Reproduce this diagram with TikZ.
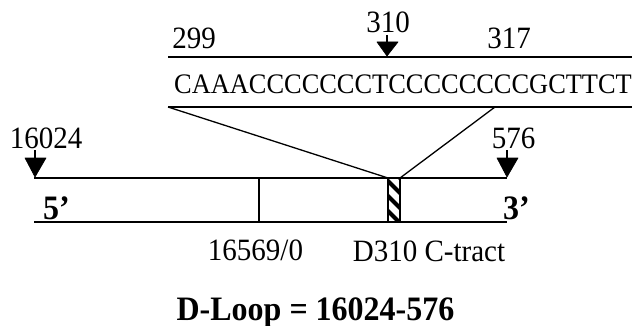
\documentclass[tikz,border=0pt]{standalone}
\usepackage{fontspec}
\usepackage{graphicx}
\setmainfont{Liberation Serif}
% glyphs of the figure are set slightly taller than the font's natural shape
\newcommand{\tallset}[1]{\scalebox{1}[1.07]{#1}}
\begin{document}
\begin{tikzpicture}[x=1pt,y=-1pt,
  rule/.style={line width=1.7pt, black},
  marker/.style={fill=black, draw=black, line width=0.6pt, line join=round},
  label/.style={font=\fontsize{29}{32}\selectfont, anchor=base, inner sep=0pt},
  seqtext/.style={font=\fontsize{26.4}{30}\selectfont, anchor=base, inner sep=0pt},
  endlabel/.style={font=\fontsize{32}{36}\selectfont\bfseries, anchor=base west, inner sep=0pt},
  title/.style={font=\fontsize{32}{36}\selectfont\bfseries, anchor=base, inner sep=0pt}]
\useasboundingbox (0,0) rectangle (634,326);

% sequence window
\coordinate (seqTL) at (168,57);
\coordinate (seqTR) at (632,57);
\coordinate (seqBL) at (168,107);
\coordinate (seqBR) at (632,107);
\coordinate (seqCut) at (495,107);
\draw[rule] (seqTL) -- (seqTR);
\draw[rule] (seqBL) -- (seqBR);
\node[seqtext] (seq) at (403,94) {\tallset{CAAACCCCCCCTCCCCCCCCGCTTCT}};
\node[label] (p299) at (194,49) {\tallset{299}};
\node[label] (p317) at (509,49) {\tallset{317}};
\node[label] (p310) at (388,33) {\tallset{310}};

% D-loop strand
\coordinate (topL) at (34,178);
\coordinate (topR) at (507,178);
\coordinate (botL) at (34,222);
\coordinate (botR) at (507,222);
\draw[rule] (topL) -- (topR);
\draw[rule] (botL) -- (botR);

% origin tick
\coordinate (oriT) at (259,178);
\coordinate (oriB) at (259,222);
\draw[rule] (oriT) -- (oriB);

% hatched C-tract box
\coordinate (hatchA) at (388,178);
\coordinate (hatchB) at (400,222);
\begin{scope}
  \clip (hatchA) rectangle (hatchB);
  \foreach \y in {162,177,192,207,222}
    \draw[line width=4.2pt] (384,\y) -- (404,\y+20);
\end{scope}
\draw[line width=1.4pt] (hatchA) rectangle (hatchB);

% expansion lines
\draw[line width=1.3pt] (seqBL) -- (hatchA);
\draw[line width=1.3pt] (seqCut) -- (400,178) coordinate (hatchTR);

% position markers
\draw[line width=1.2pt] (35,150) -- (35,158);
\draw[marker] (25,158) -- (46,158) -- (35,177) -- cycle;
\draw[line width=1.2pt] (507,150) -- (507,158);
\draw[marker] (497,158) -- (518,158) -- (507,177) -- cycle;
\draw[line width=1.2pt] (387,35) -- (387,42);
\draw[marker] (377,42) -- (398,42) -- (387,56) -- cycle;

\node[label] (p16024) at (46,149) {\tallset{16024}};
\node[label] (p576) at (513.5,148) {\tallset{576}};
\node[endlabel] (five) at (43,219) {\tallset{5’}};
\node[endlabel] (three) at (503,219) {\tallset{3’}};
\node[label] (pori) at (255.5,260) {\tallset{16569/0}};
\node[label] (ctract) at (429,261) {\tallset{D310 C-tract}};
\node[title] (loop) at (315.5,320) {\tallset{D-Loop = 16024-576}};
\end{tikzpicture}
\end{document}
